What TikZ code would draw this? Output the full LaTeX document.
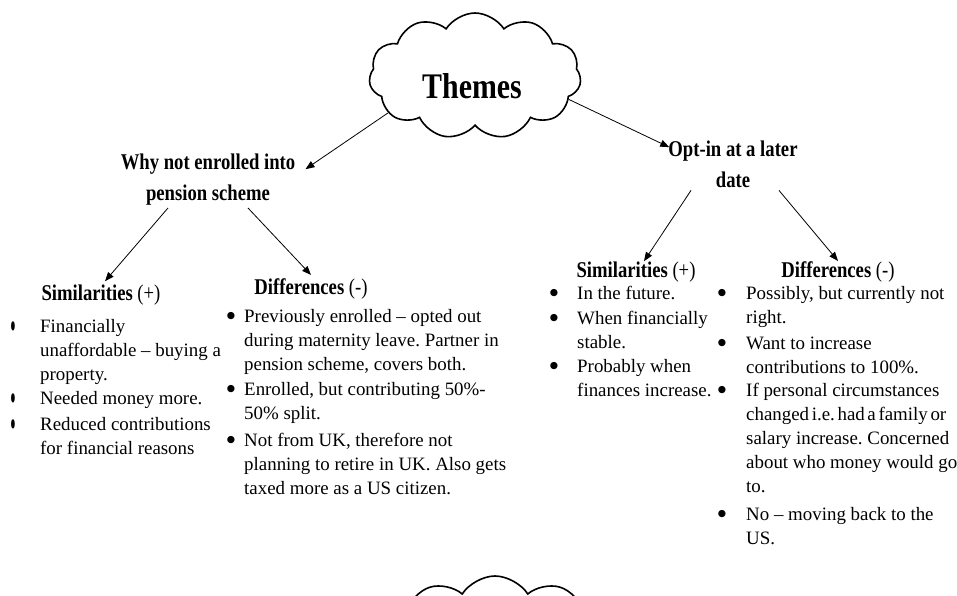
\documentclass[tikz,border=0pt]{standalone}
\usepackage{fontspec}
\setmainfont{Liberation Serif}
\newfontfamily\hdfont[FakeStretch=0.83]{Liberation Serif}
\newfontfamily\dejavu{DejaVu Sans}
\usepackage{graphicx}
\usetikzlibrary{shapes.symbols,arrows.meta}
\frenchspacing
\begin{document}
\begin{tikzpicture}[x=1pt,y=-1pt,
 arr/.style={-{Triangle[length=9pt,width=7pt]},line width=0.8pt},
 body/.style={anchor=base west,align=left,inner sep=0pt,font=\fontsize{18.9}{24}\selectfont\frenchspacing},
 bul/.style={anchor=center,inner sep=0pt,font=\dejavu\fontsize{9.5}{10}\selectfont},
 nbul/.style={anchor=center,inner sep=0pt,font=\dejavu\fontsize{11}{11}\selectfont},
 hd/.style={anchor=base,align=center,inner sep=3pt,font=\hdfont\bfseries\fontsize{22.5}{31}\selectfont},
 cloudbox/.style={cloud,draw,line width=1.6pt,cloud puffs=11,cloud puff arc=115,cloud ignores aspect,inner sep=0pt}]
\useasboundingbox (0,0) rectangle (957,596);
\clip (0,0) rectangle (957,596);

% clouds
\node[cloudbox,minimum width=212pt,minimum height=126pt] (cloud) at (475,76) {};
\node[font=\hdfont\bfseries\fontsize{36}{40}\selectfont,anchor=base] (themes) at (472,99) {Themes};
\node[cloudbox,minimum width=240pt,minimum height=140pt] (bcloud) at (495,646) {};

% headings (base anchor = baseline of last line)
\node[hd] (why) at (208,200) {Why not enrolled into\\pension scheme};
\node[hd] (opt) at (733,187) {Opt-in at a later\\date};
\node[hd] (simL) at (101,300) {Similarities {\mdseries(+)}};
\node[hd] (difL) at (311,294) {Differences {\mdseries(-)}};
\node[hd] (simR) at (636,277) {Similarities {\mdseries(+)}};
\node[hd] (difR) at (838,277) {Differences {\mdseries(-)}};

% arrows
\draw[arr] (cloud.203) -- ([xshift=7pt,yshift=-19pt]why.north east);
\draw[arr] (cloud.-14) -- ([xshift=4pt,yshift=-10pt]opt.north west);
\draw[arr] ([xshift=-40pt]why.south) -- ([xshift=4pt]simL.north);
\draw[arr] ([xshift=40pt]why.south) -- (difL.north);
\draw[arr] ([xshift=-42pt]opt.south) -- ([xshift=8pt,yshift=-3pt]simR.north);
\draw[arr] ([xshift=46pt]opt.south) -- ([yshift=-3pt]difR.north);

% left similarities
\node[nbul] (b1) at (13,326) {\scalebox{0.45}[1.1]{●}};
\node[body] (s1) at (40,380) {Financially\\unaffordable – buying a\\property.};
\node[nbul] (b2) at (13,398) {\scalebox{0.45}[1.1]{●}};
\node[body] (s2) at (40,404) {Needed money more.};
\node[nbul] (b3) at (13,424) {\scalebox{0.45}[1.1]{●}};
\node[body] (s3) at (40,454) {Reduced contributions\\for financial reasons};

% left differences
\node[bul] (b4) at (231,316) {●};
\node[body] (d1) at (244,370) {Previously enrolled – opted out\\during maternity leave. Partner in\\pension scheme, covers both.};
\node[bul] (b5) at (231,389) {●};
\node[body] (d2) at (244,419) {Enrolled, but contributing 50\%-\\50\% split.};
\node[bul] (b6) at (231,440) {●};
\node[body] (d3) at (244,494) {Not from UK, therefore not\\planning to retire in UK. Also gets\\taxed more as a US citizen.};

% right similarities
\node[bul] (b7) at (554,293) {●};
\node[body] (r1) at (577,299) {In the future.};
\node[bul] (b8) at (554,318) {●};
\node[body] (r2) at (577,348) {When financially\\stable.};
\node[bul] (b9) at (554,366) {●};
\node[body] (r3) at (577,396) {Probably when\\finances increase.};

% right differences
\node[bul] (b10) at (722,293) {●};
\node[body] (q1) at (746,323) {Possibly, but currently not\\right.};
\node[bul] (b11) at (722,343) {●};
\node[body] (q2) at (746,373) {Want to increase\\contributions to 100\%.};
\node[bul] (b12) at (722,390) {●};
\node[body] (q3) at (746,492) {If personal circumstances\\{\spaceskip=0.14em plus 0.05em changed i.e. had a family or}\\salary increase. Concerned\\about who money would go\\to.};
\node[bul] (b13) at (722,514) {●};
\node[body] (q4) at (746,544) {No – moving back to the\\US.};
\end{tikzpicture}
\end{document}
